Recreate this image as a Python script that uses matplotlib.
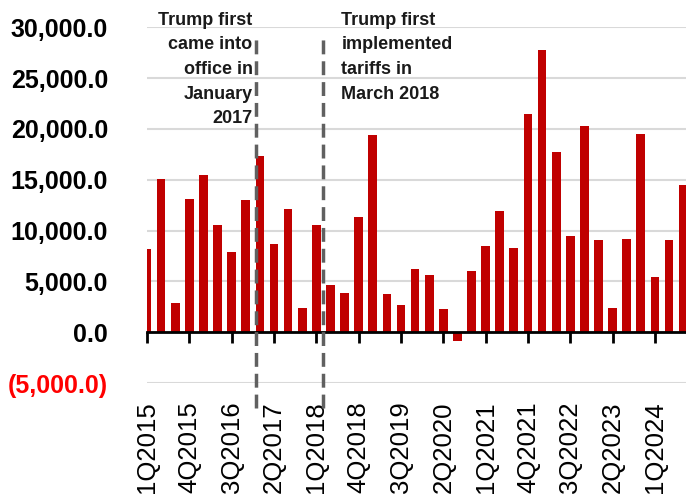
import matplotlib
matplotlib.use("Agg")
import matplotlib.pyplot as plt
import matplotlib.transforms as mtransforms

# Quarterly series, 1Q2015 - 3Q2024
quarters = [f"{q}Q{y}" for y in range(2015, 2025) for q in range(1, 5)][:39]
values = [8200, 15100, 2850, 13100, 15500, 10550, 7900, 13000,
          17300, 8650, 12100, 2400, 10550, 4600, 3900, 11300,
          19400, 3750, 2700, 6250, 5600, 2250, -900, 6000,
          8500, 11900, 8300, 21500, 27800, 17700, 9500, 20250,
          9050, 2350, 9150, 19500, 5400, 9050, 14450]
y_ticks = [-5000, 0, 5000, 10000, 15000, 20000, 25000, 30000]

# Event markers (between quarters) and their notes
event_pos = [7.75, 12.5]
event_notes = ["Trump first\ncame into\noffice in\nJanuary\n2017",
               "Trump first\nimplemented\ntariffs in\nMarch 2018"]

plt.rcParams["font.family"] = ["Liberation Sans", "DejaVu Sans"]

fig = plt.figure(figsize=(6.86, 5.04), dpi=100)
ax = fig.add_axes([0.2143, 0.240, 0.7857, 0.706])

x = list(range(len(values)))
ax.bar(x, values, width=0.62, color="#C00000", zorder=3)

ax.set_xlim(0, 38.2)
ax.set_ylim(-5000, 30000)

# y axis
ax.set_yticks(y_ticks)
ax.set_yticklabels([f"({abs(v):,.1f})" if v < 0 else f"{v:,.1f}" for v in y_ticks],
                   fontsize=18, fontweight="bold")
for lbl, v in zip(ax.get_yticklabels(), y_ticks):
    if v < 0:
        lbl.set_color("#FF0000")
ax.tick_params(axis="y", length=0, pad=28)
ax.grid(axis="y", color="#D9D9D9", linewidth=1.5, zorder=0)

# zero line with tick marks, labels placed at the bottom
for s in ["left", "right", "top"]:
    ax.spines[s].set_visible(False)
ax.spines["bottom"].set_position(("data", 0))
ax.spines["bottom"].set_linewidth(2)
ax.spines["bottom"].set_zorder(4)
tick_idx = x[::3]
ax.set_xticks(tick_idx)
ax.set_xticklabels([])
ax.tick_params(axis="x", direction="out", length=8, width=2, color="black")

sec = ax.secondary_xaxis("bottom")
sec.set_xticks(tick_idx)
sec.set_xticklabels([quarters[i] for i in tick_idx], rotation=90, fontsize=18.5)
sec.tick_params(length=0, pad=13)
sec.spines["bottom"].set_visible(False)

# event lines and notes
trans = mtransforms.blended_transform_factory(ax.transData, ax.transAxes)
for xp in event_pos:
    ax.plot([xp, xp], [-0.07, 0.969], transform=trans, color="#606060",
            linewidth=2.5, linestyle=(0, (4, 2)), clip_on=False, zorder=5)

ax.text(event_pos[0] - 0.27, 1.043, event_notes[0], transform=trans, ha="right",
        va="top", fontsize=13, fontweight="bold", linespacing=1.58, color="#1a1a1a")
ax.text(event_pos[1] + 1.27, 1.043, event_notes[1], transform=trans, ha="left",
        va="top", fontsize=13, fontweight="bold", linespacing=1.58, color="#1a1a1a")

fig.savefig("out.png", dpi=100)
